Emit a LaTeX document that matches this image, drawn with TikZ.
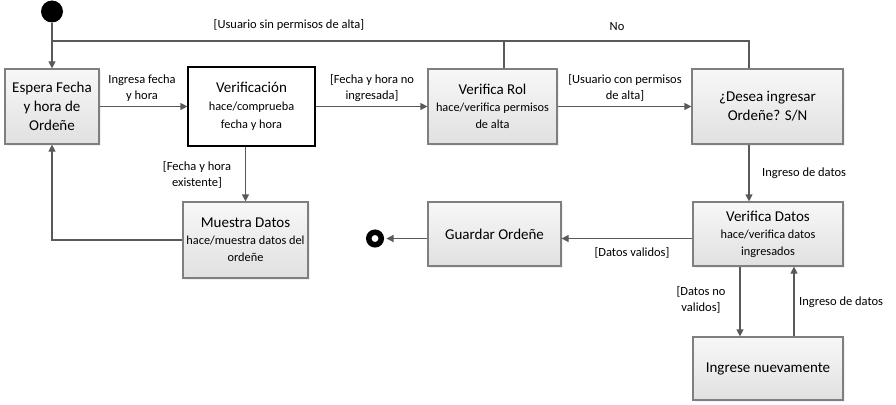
\documentclass[tikz,border=0pt]{standalone}
\usepackage{fontspec}
\setmainfont{Carlito}
\usetikzlibrary{arrows.meta,shadows}
\definecolor{gris}{HTML}{595959}
\definecolor{borde}{HTML}{7F7F7F}
\newcommand\titulo{\fontsize{15}{19}\selectfont}
\tikzset{
    %Define standard arrow tip
    >={Triangle[length=7pt,width=7pt]},
    %Define style for states
    estado/.style={
           rectangle,
           draw=borde, line width=1.2pt,
           top color=white!97!black,
           bottom color=white!88!black,
           drop shadow={opacity=0.12,shadow xshift=1.5pt,shadow yshift=-1.5pt},
           inner sep=2pt,
           align=center,
           font=\fontsize{12.3}{17}\selectfont},
    estadogrande/.style={
           estado,
           font=\titulo},
    estadoblanco/.style={
           rectangle,
           draw=black, line width=1.2pt,
           fill=white,
           inner sep=2pt,
           align=center,
           font=\fontsize{12.3}{18}\selectfont},
    inicio/.style={
           circle,
           fill=black,
           minimum size=22pt,
           inner sep=0pt},
    fin/.style={
           circle,
           draw=black, line width=5.5pt,
           fill=white,
           minimum size=12.5pt,
           inner sep=0pt},
    etiqueta/.style={
           inner sep=0pt,
           align=center,
           font=\fontsize{12.5}{16}\selectfont},
    % Define arrow style
    conector/.style={
           draw=gris,
           line width=1.2pt},
    flecha/.style={
           conector,
           ->}
}
\begin{document}
\begin{tikzpicture}[x=1pt,y=-1pt]
\useasboundingbox (0,0) rectangle (896,404);
 %nodes
\node[inicio](ini) at (52,11.5){};
\node[estadogrande, minimum width=94pt, minimum height=75pt](espera) at (52,106.5){Espera Fecha\\y hora de\\Ordeñe};
\node[estadoblanco, minimum width=127pt, minimum height=79pt](verif) at (251.5,106.5){{\titulo Verificación}\\hace/comprueba\\fecha y hora};
\node[estado, minimum width=129pt, minimum height=75pt](rol) at (492.5,106.5){{\titulo Verifica Rol}\\hace/verifica permisos\\de alta};
\node[estadogrande, minimum width=151pt, minimum height=75pt](desea) at (767.5,106.5){¿Desea ingresar\\Ordeñe? S/N};
\node[estado, minimum width=125pt, minimum height=76pt](muestra) at (245.5,240){{\titulo Muestra Datos}\\hace/muestra datos del\\ordeñe};
\node[estadogrande, minimum width=133pt, minimum height=64pt](guardar) at (494.5,234){Guardar Ordeñe};
\node[estado, minimum width=150pt, minimum height=64pt](vdatos) at (768,234){{\titulo Verifica Datos}\\hace/verifica datos\\ingresados};
\node[estadogrande, minimum width=150pt, minimum height=63pt](ingrese) at (768,368.5){Ingrese nuevamente};
\node[fin](fin) at (375,238.5){};
 %junctions
\coordinate (jini) at (52,41);
\coordinate (jrol) at (504,41);
\coordinate (jdes) at (749,41);
\coordinate (jbaja) at (740,0);
\coordinate (jsube) at (794,0);
 %labels
\node[etiqueta](lsin) at (289,25){[Usuario sin permisos de alta]};
\node[etiqueta](lno) at (617,27){No};
\node[etiqueta](lingresa) at (142,88){Ingresa fecha\\y hora};
\node[etiqueta](lnoing) at (372,88){[Fecha y hora no\\ingresada]};
\node[etiqueta](lcon) at (625,88){[Usuario con permisos\\de alta]};
\node[etiqueta](lexiste) at (197,175){[Fecha y hora\\existente]};
\node[etiqueta, anchor=west](ldatos) at (762,173){Ingreso de datos};
\node[etiqueta](lvalidos) at (632,253){[Datos validos]};
\node[etiqueta](lnovalidos) at (701,300){[Datos no\\validos]};
\node[etiqueta, anchor=west](lreingreso) at (799,302){Ingreso de datos};
 %connectors
\draw[flecha] (ini) -- (espera);
\draw[flecha] (espera) -- (verif);
\draw[flecha] (verif) -- (rol);
\draw[flecha] (rol) -- (desea);
\draw[flecha] (verif.south -| muestra) -- (muestra);
\draw[flecha] (muestra.west) -| (espera.south);
\draw[conector] (rol.north -| jrol) -- (jrol);
\draw[conector] (desea.north -| jdes) -- (jdes) -- (jini);
\draw[flecha] (desea.south -| jdes) -- (vdatos.north -| jdes);
\draw[flecha] (vdatos.west |- fin) -- (guardar.east |- fin);
\draw[flecha, shorten >=2.5pt] (guardar.west |- fin) -- (fin);
\draw[flecha] (vdatos.south -| jbaja) -- (ingrese.north -| jbaja);
\draw[flecha] (ingrese.north -| jsube) -- (vdatos.south -| jsube);
\end{tikzpicture}
\end{document}
